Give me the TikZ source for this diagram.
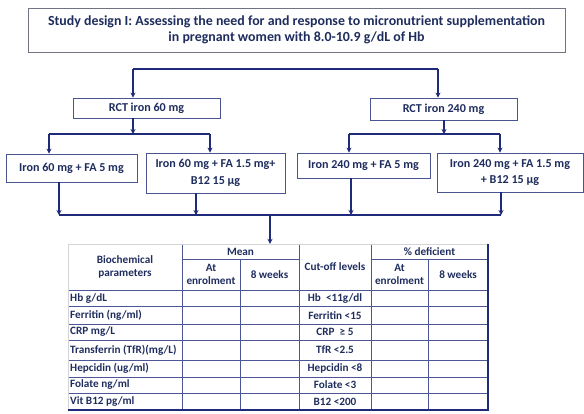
\documentclass[tikz,border=0pt]{standalone}
\usepackage{fontspec}
\setmainfont{Carlito}
\usetikzlibrary{arrows.meta}
\definecolor{navy}{HTML}{1F2A7A}
\definecolor{txt}{HTML}{1F2D5E}
\definecolor{boxc}{HTML}{4A5590}
\definecolor{lgray}{HTML}{D4D4D8}
\tikzset{
  box/.style={draw=boxc, line width=0.8pt, fill=white, text=txt, align=center, inner sep=0pt,
    font=\bfseries\fontsize{12.1}{16.5}\selectfont},
  conn/.style={draw=navy, line width=1.6pt},
  arr/.style={conn, -{Stealth[length=5pt,width=5pt]}},
  tline/.style={draw=navy!80!white, line width=0.9pt},
  ttext/.style={text=txt, inner sep=1pt, align=center, font=\bfseries\fontsize{11.2}{13.5}\selectfont},
}
\begin{document}
\begin{tikzpicture}[x=1pt,y=-1pt]
\useasboundingbox (0,0) rectangle (584,414);
% title
\node[box, draw=gray!70!boxc, minimum width=537, minimum height=44,
  font=\bfseries\fontsize{13.9}{16.5}\selectfont] (title) at (296.5,30)
  {Study design I: Assessing the need for and response to micronutrient supplementation\\
   in pregnant women with 8.0-10.9 g/dL of Hb};
% RCT boxes
\node[box, minimum width=147, minimum height=20] (rct1) at (146.5,108) {RCT iron 60 mg};
\node[box, minimum width=147, minimum height=22] (rct2) at (443.5,109) {RCT iron 240 mg};
% arm boxes
\node[box, minimum width=131, minimum height=28] (b1) at (71.5,168) {Iron 60 mg + FA 5 mg};
\node[box, minimum width=139, minimum height=40] (b2) at (215.5,173) {Iron 60 mg + FA 1.5 mg+\\B12 15 µg};
\node[box, minimum width=133, minimum height=25] (b3) at (363.5,165.5) {Iron 240 mg + FA 5 mg};
\node[box, minimum width=146, minimum height=39] (b4) at (510,172.5) {Iron 240 mg + FA 1.5 mg\\+ B12 15 µg};
% table frame node
\node[inner sep=0pt, minimum width=420, minimum height=166] (tab) at (278,327) {};

% top split
\coordinate (tl) at (133,69);
\coordinate (tr) at (438,69);
\draw[conn] (tl) -- (tr);
\draw[arr] (tl) -- (tl |- rct1.north);
\draw[arr] (tr) -- (tr |- rct2.north);
% left split
\coordinate (ls) at (133,134);
\coordinate (la) at (49,134);
\coordinate (lb) at (210,134);
\draw[conn] (la) -- (lb);
\draw[arr] (rct1.south -| ls) -- (ls);
\draw[arr] (la) -- (la |- b1.north);
\draw[arr] (lb) -- (lb |- b2.north);
% right split
\coordinate (rs) at (444,134);
\coordinate (ra) at (349,134);
\coordinate (rb) at (500,134);
\draw[conn] (ra) -- (rb);
\draw[arr] (rct2.south -| rs) -- (rs);
\draw[arr] (ra) -- (ra |- b3.north);
\draw[arr] (rb) -- (rb |- b4.north);
% merge
\coordinate (m1) at (59,215);
\coordinate (m2) at (196,215);
\coordinate (m3) at (351,215);
\coordinate (m4) at (501,215);
\coordinate (mc) at (270,215);
\draw[conn] (m1) -- (m4);
\draw[arr] (m1 |- b1.south) -- (m1);
\draw[arr] (m2 |- b2.south) -- (m2);
\draw[arr] (m3 |- b3.south) -- (m3);
\draw[arr] (m4 |- b4.south) -- (m4);
\draw[arr] (mc) -- (mc |- tab.north);

% table lines
\foreach \y in {290,306.5,324,340,360,377,393}
  \draw[tline] (68,\y) -- (488,\y);
\draw[tline] (182,259) -- (299,259);
\draw[tline] (371,259) -- (488,259);
\foreach \x in {182,299,371}
  \draw[tline] (\x,244) -- (\x,410);
\foreach \x in {240,428}
  \draw[tline] (\x,259) -- (\x,410);
\draw[lgray, line width=0.8pt] (68,410) -- (68,244) -- (488,244);
\draw[navy, line width=1.8pt] (68,410) -- (488,410) -- (488,244);

% table header text
\node[ttext] (hbio) at (125,267) {Biochemical\\parameters};
\node[ttext] (hmean) at (240.5,251.5) {Mean};
\node[ttext] (hat1) at (211,274.5) {At\\enrolment};
\node[ttext] (hw1) at (269.5,274.5) {8 weeks};
\node[ttext] (hcut) at (335,267) {Cut-off levels};
\node[ttext] (hdef) at (429.5,251.5) {\% deficient};
\node[ttext] (hat2) at (399.5,274.5) {At\\enrolment};
\node[ttext] (hw2) at (458,274.5) {8 weeks};

% rows: parameters
\node[ttext, anchor=west] (p1) at (69,298.25) {Hb g/dL};
\node[ttext, anchor=west] (p2) at (69,315.25) {Ferritin (ng/ml)};
\node[ttext, anchor=west] (p3) at (69,332) {CRP mg/L};
\node[ttext, anchor=west] (p4) at (69,350) {Transferrin (TfR)(mg/L)};
\node[ttext, anchor=west] (p5) at (69,368.5) {Hepcidin (ug/ml)};
\node[ttext, anchor=west] (p6) at (69,385) {Folate ng/ml};
\node[ttext, anchor=west] (p7) at (69,401.5) {Vit B12 pg/ml};
% rows: cut-offs
\node[ttext] (c1) at (335,298.25) {Hb\ \ <11g/dl};
\node[ttext] (c2) at (335,315.25) {Ferritin <15};
\node[ttext] (c3) at (335,332) {CRP\ \ ≥ 5};
\node[ttext] (c4) at (335,350) {TfR <2.5};
\node[ttext] (c5) at (335,368.5) {Hepcidin <8};
\node[ttext] (c6) at (335,385) {Folate <3};
\node[ttext] (c7) at (335,401.5) {B12 <200};
\end{tikzpicture}
\end{document}
